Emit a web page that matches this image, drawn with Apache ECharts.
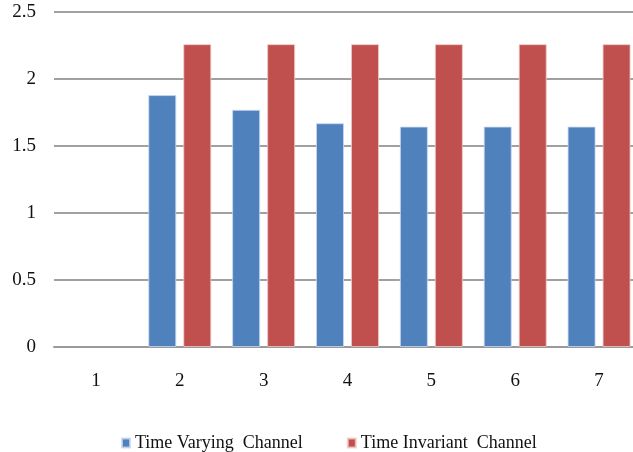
<!DOCTYPE html>
<html>
<head>
<meta charset="utf-8">
<script src="https://cdn.jsdelivr.net/npm/echarts@6/dist/echarts.min.js"></script>
<style>
  html, body { margin: 0; padding: 0; background: #fff; overflow: hidden; }
  #chart { width: 641px; height: 452px; }
</style>
</head>
<body>
<div id="chart"></div>
<script>
// Category labels along the x axis
const categories = ['1', '2', '3', '4', '5', '6', '7'];
// Values for each channel type (no bar for the first category)
const timeVarying = [null, 1.88, 1.77, 1.67, 1.645, 1.645, 1.645];
const timeInvariant = [null, 2.26, 2.26, 2.26, 2.26, 2.26, 2.26];
// Y axis range and step
const yMin = 0, yMax = 2.5, yStep = 0.5;

const serif = '"Liberation Serif", "DejaVu Serif", serif';
const chart = echarts.init(document.getElementById('chart'));
chart.setOption({
  animation: false,
  backgroundColor: '#ffffff',
  // the plot runs a little past the right edge of the visible page
  grid: { left: 54, right: 0, top: 12, bottom: 105, containLabel: false },
  legend: {
    left: 116,
    top: 429,
    itemWidth: 8,
    itemHeight: 9,
    itemGap: 44,
    icon: 'rect',
    textStyle: { fontFamily: serif, fontSize: 18, color: '#111' },
    data: ['Time Varying  Channel', 'Time Invariant  Channel']
  },
  xAxis: {
    type: 'category',
    data: categories,
    axisLine: { lineStyle: { color: '#9a9a9a', width: 2 } },
    axisTick: { show: false },
    axisLabel: { fontFamily: serif, fontSize: 19, color: '#111', margin: 25 }
  },
  yAxis: {
    type: 'value',
    min: yMin,
    max: yMax,
    interval: yStep,
    axisLine: { show: false },
    axisTick: { show: false },
    axisLabel: { fontFamily: serif, fontSize: 19, color: '#111', margin: 18 },
    splitLine: { lineStyle: { color: '#a0a0a0', width: 2 } }
  },
  series: [
    {
      name: 'Time Varying  Channel',
      type: 'bar',
      data: timeVarying,
      barWidth: 28,
      barGap: '25%',
      itemStyle: { color: '#4f81bd', borderColor: 'rgba(200,215,240,0.8)', borderWidth: 1 }
    },
    {
      name: 'Time Invariant  Channel',
      type: 'bar',
      data: timeInvariant,
      barWidth: 28,
      barGap: '25%',
      itemStyle: { color: '#c0504d', borderColor: 'rgba(240,200,200,0.8)', borderWidth: 1 }
    }
  ]
});
</script>
</body>
</html>
